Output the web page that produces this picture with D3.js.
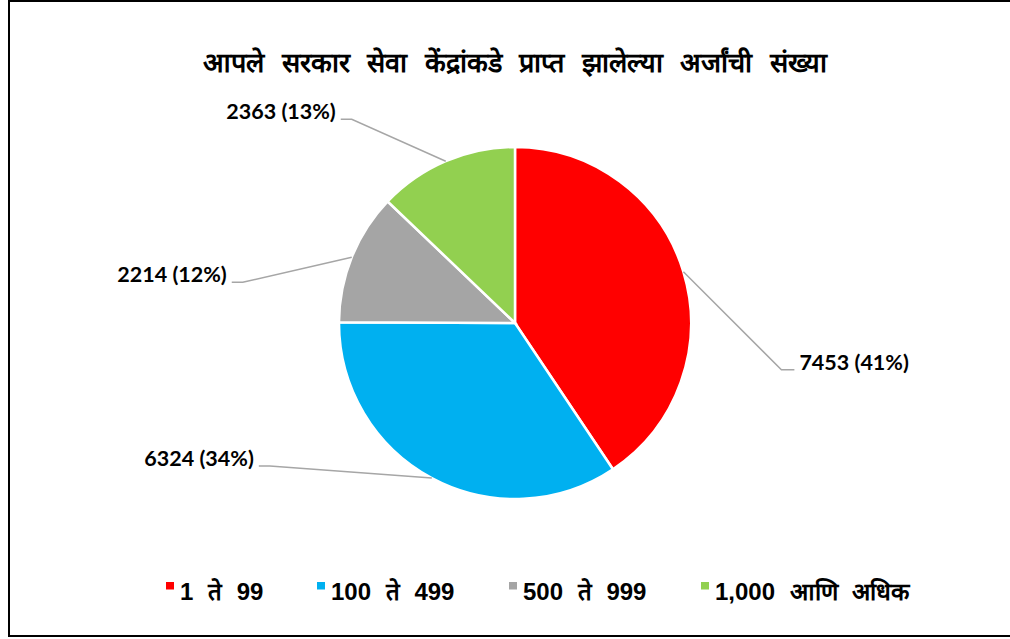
<!DOCTYPE html>
<html>

<head>
    <meta charset="utf-8">
    <title>Aaple Sarkar Seva Kendra</title>
    <script src="https://d3js.org/d3.v7.min.js"></script>
    <style>
        body {
            margin: 0;
            background: #fff;
        }

        .chart-title {
            text-anchor: middle;
            font-family: "Liberation Sans", Arial, sans-serif;
            font-weight: bold;
            font-size: 27px;
            word-spacing: 10px;
        }

        .slice-label {
            font-family: Lato, "Open Sans", sans-serif;
            font-weight: bold;
            font-size: 21.5px;
            fill: #000;
        }

        .legend-text {
            font-family: "Liberation Sans", Arial, sans-serif;
            font-weight: bold;
            font-size: 24px;
            word-spacing: 8px;
        }
    </style>
</head>

<body>
    <div id="chart"></div>
    <script>
        // data
        const categories = ['1 ते 99', '100 ते 499', '500 ते 999', '1,000 आणि अधिक'];
        const counts = [7453, 6324, 2214, 2363];
        const colors = ['#ff0000', '#00b0f0', '#a5a5a5', '#92d050'];
        const chartTitle = 'आपले सरकार सेवा केंद्रांकडे प्राप्त झालेल्या अर्जांची संख्या';

        const width = 1010, height = 639;
        const cx = 515, cy = 323, radius = 176;

        // where each leader line bends, relative to the point on the pie edge
        const elbows = [[98, 98], [-162, -12], [-109, 25], [-94, -42]];

        const svg = d3.select("#chart").append("svg")
            .attr("width", width)
            .attr("height", height);

        // chart frame
        svg.append("rect")
            .attr("x", 9)
            .attr("y", 1)
            .attr("width", width + 10)
            .attr("height", 635)
            .attr("fill", "none")
            .attr("stroke", "#000")
            .attr("stroke-width", 2);

        svg.append("text")
            .attr("class", "chart-title")
            .attr("x", 515)
            .attr("y", 72)
            .text(chartTitle);

        const total = d3.sum(counts);
        const data = categories.map((c, i) => ({ category: c, value: counts[i], color: colors[i] }));

        const pie = d3.pie()
            .sort(null)
            .value(d => d.value);

        const arc = d3.arc()
            .innerRadius(0)
            .outerRadius(radius);

        const arcs = pie(data);

        const g = svg.append("g")
            .attr("transform", "translate(" + cx + "," + cy + ")");

        g.selectAll("path")
            .data(arcs)
            .enter().append("path")
            .attr("d", arc)
            .attr("fill", d => d.data.color)
            .attr("stroke", "#fff")
            .attr("stroke-width", 2.5)
            .attr("stroke-linejoin", "miter");

        // leader lines + labels
        arcs.forEach((d, i) => {
            const mid = (d.startAngle + d.endAngle) / 2;
            const sx = radius * Math.sin(mid);
            const sy = -radius * Math.cos(mid);
            const ex = sx + elbows[i][0];
            const ey = sy + elbows[i][1];
            const right = ex > sx;
            const hx = ex + (right ? 13 : -11);

            g.append("polyline")
                .attr("points", [[sx, sy], [ex, ey], [hx, ey]].map(p => p.join(",")).join(" "))
                .attr("fill", "none")
                .attr("stroke", "#a6a6a6")
                .attr("stroke-width", 1.5);

            const pct = Math.round(d.data.value / total * 100);
            g.append("text")
                .attr("class", "slice-label")
                .attr("x", hx + (right ? 5 : -5))
                .attr("y", ey)
                .attr("text-anchor", right ? "start" : "end")
                .text(d.data.value + " (" + pct + "%)");
        });

        // legend along the bottom
        const legendX = [166, 317, 509, 701];
        const legend = svg.append("g")
            .selectAll("g")
            .data(data)
            .enter().append("g")
            .attr("transform", (d, i) => "translate(" + legendX[i] + ",582)");

        legend.append("rect")
            .attr("x", 0)
            .attr("y", 0)
            .attr("width", 8)
            .attr("height", 7.5)
            .attr("fill", d => d.color);

        legend.append("text")
            .attr("class", "legend-text")
            .attr("x", 14)
            .attr("y", 17.5)
            .text(d => d.category);
    </script>
</body>

</html>
